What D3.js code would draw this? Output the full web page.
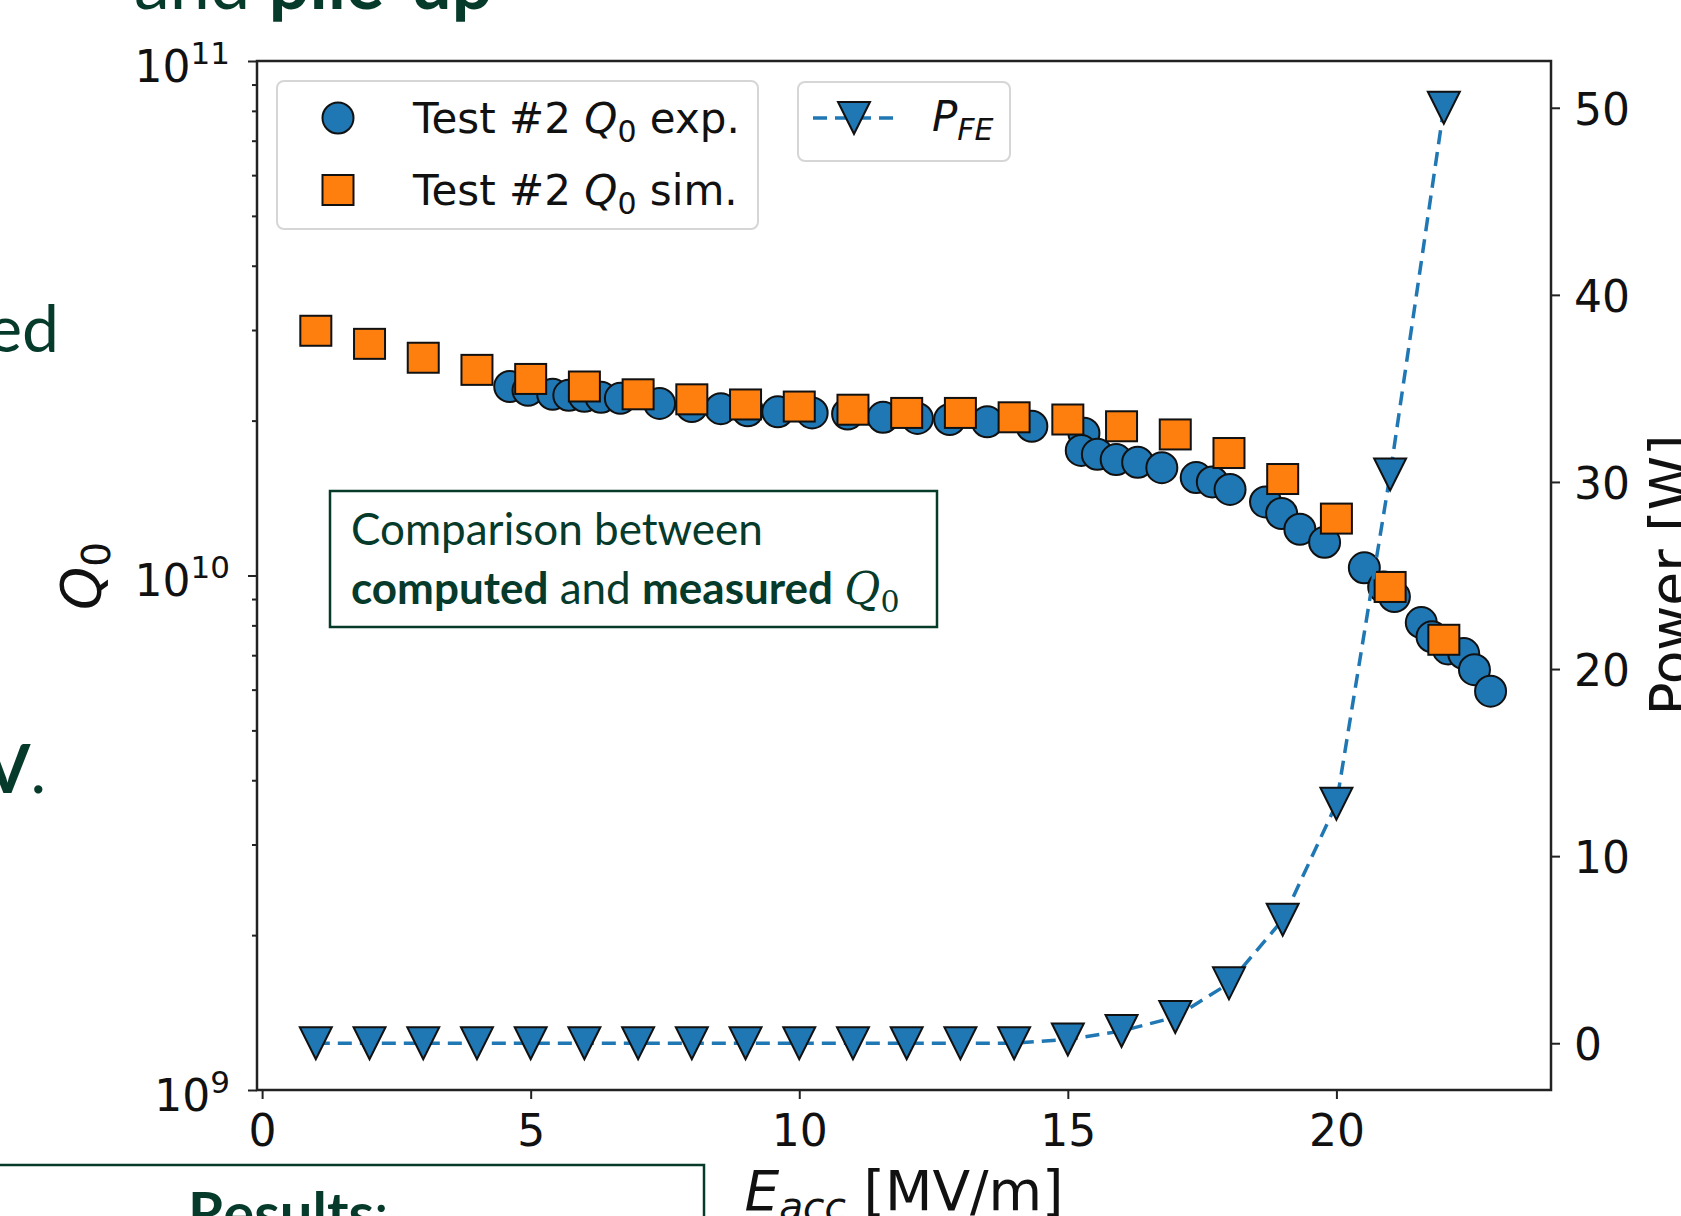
<!DOCTYPE html>
<html>
<head>
<meta charset="UTF-8">
<script src="https://d3js.org/d3.v7.min.js"></script>
<title>Q0 vs Eacc</title>
<style>
  body { margin: 0; background: #fff; overflow: hidden; }
  svg { display: block; }
  .mpl { font-family: "DejaVu Sans", sans-serif; fill: #111; }
  .slide { font-family: Lato, "Open Sans", sans-serif; fill: #063a2a; }
</style>
</head>
<body>
<div id="container"></div>
<script>
// Test #2 Q0 sim. (one point per MV/m)
var simE  = [1, 2, 3, 4, 5, 6, 7, 8, 9, 10, 11, 12, 13, 14, 15, 16, 17, 18, 19, 20, 21, 22];
var simQ0 = [2.99e10, 2.82e10, 2.65e10, 2.51e10, 2.41e10, 2.33e10, 2.25e10, 2.20e10, 2.15e10, 2.13e10, 2.10e10,
             2.07e10, 2.07e10, 2.03e10, 2.01e10, 1.95e10, 1.88e10, 1.73e10, 1.54e10, 1.29e10, 9.5e9, 7.5e9];

// Test #2 Q0 exp.
var expE  = [4.61, 4.95, 5.41, 5.71, 6.0, 6.31, 6.67, 7.4, 8.0, 8.54, 9.04, 9.6, 10.24, 10.9, 11.56, 12.2, 12.8,
             13.5, 14.33, 15.3, 15.25, 15.55, 15.9, 16.3, 16.75, 17.39, 17.69, 18.02, 18.68, 18.98, 19.32, 19.78,
             20.52, 20.88, 21.08, 21.58, 21.78, 22.08, 22.37, 22.57, 22.87];
var expQ0 = [2.33e10, 2.29e10, 2.25e10, 2.24e10, 2.23e10, 2.22e10, 2.21e10, 2.16e10, 2.13e10, 2.11e10, 2.09e10,
             2.08e10, 2.07e10, 2.06e10, 2.03e10, 2.02e10, 2.01e10, 1.99e10, 1.95e10, 1.89e10, 1.75e10, 1.72e10,
             1.68e10, 1.66e10, 1.62e10, 1.55e10, 1.52e10, 1.47e10, 1.39e10, 1.32e10, 1.23e10, 1.16e10, 1.035e10,
             9.5e9, 9.1e9, 8.1e9, 7.6e9, 7.2e9, 7.05e9, 6.56e9, 5.96e9];

// P_FE [W]
var pfeE = [1, 2, 3, 4, 5, 6, 7, 8, 9, 10, 11, 12, 13, 14, 15, 16, 17, 18, 19, 20, 21, 22];
var pfeP = [0, 0, 0, 0, 0, 0, 0, 0, 0, 0, 0, 0, 0, 0, 0.2, 0.65, 1.4, 3.2, 6.6, 12.8, 30.4, 50.0];

var eTicks = [0, 5, 10, 15, 20];
var q0Exps = [9, 10, 11];
var powerTicks = [0, 10, 20, 30, 40, 50];

var blue = "#1f77b4", orange = "#ff7f0e", green = "#063a2a", ink = "#111";

var W = 1681, H = 1216;
// plot box (note: "top" is taken by window.top)
var pL = 257, pR = 1551, pT = 61, pB = 1090;

var svg = d3.select("#container").append("svg").attr("width", W).attr("height", H);

var x  = d3.scaleLinear().domain([-0.095, 23.995]).range([pL, pR]);
var yQ = d3.scaleLog().domain([1e9, 1e11]).range([pB, pT]);
var yP = d3.scaleLinear().domain([-2.5, 52.5]).range([pB, pT]);

// text with italic / sub / sup pieces
function rich(g, parts) {
  var t = g.append("text");
  var shift = 0;
  parts.forEach(function(p) {
    var s = t.append("tspan").text(p.t);
    var want = p.sub || (p.sup ? -p.sup : 0);
    if (want - shift !== 0) s.attr("dy", want - shift);
    shift = want;
    if (p.i) s.attr("font-style", "italic");
    if (p.b) s.attr("font-weight", "bold");
    if (p.size) s.attr("font-size", p.size);
    if (p.family) s.attr("font-family", p.family);
  });
  return t;
}

function styleAxis(g) {
  g.select(".domain").remove();
  g.selectAll(".tick line").attr("stroke", "#222").attr("stroke-width", 2);
  g.selectAll(".tick text").attr("class", "mpl").attr("font-size", 44).attr("fill", ink);
}

// bottom axis
var gx = svg.append("g").attr("transform", "translate(0," + pB + ")")
  .call(d3.axisBottom(x).tickValues(eTicks).tickSize(9).tickPadding(16));
styleAxis(gx);

// left log axis, minor ticks
var minors = [];
[1e9, 1e10].forEach(function(b) { for (var k = 2; k < 10; k++) minors.push(k * b); });
var gyMinor = svg.append("g").attr("transform", "translate(" + pL + ",0)")
  .call(d3.axisLeft(yQ).tickValues(minors).tickSize(5).tickFormat(""));
styleAxis(gyMinor);

var gy = svg.append("g").attr("transform", "translate(" + pL + ",0)")
  .call(d3.axisLeft(yQ).tickValues(q0Exps.map(function(e) { return Math.pow(10, e); }))
    .tickSize(9).tickPadding(18).tickFormat(""));
styleAxis(gy);
gy.selectAll(".tick text").attr("dy", "0.46em").each(function(d) {
  var t = d3.select(this);
  t.append("tspan").text("10");
  t.append("tspan").attr("font-size", 31).attr("dy", -18).text(Math.round(Math.log10(d)));
});

// right axis
var gr = svg.append("g").attr("transform", "translate(" + pR + ",0)")
  .call(d3.axisRight(yP).tickValues(powerTicks).tickSize(9).tickPadding(14));
styleAxis(gr);
gr.selectAll(".tick text").attr("dy", "0.38em");

// frame
svg.append("rect").attr("x", pL).attr("y", pT)
  .attr("width", pR - pL).attr("height", pB - pT)
  .attr("fill", "none").attr("stroke", "#222").attr("stroke-width", 2.5);

// exp. circles
svg.append("g").selectAll("circle").data(expE).join("circle")
  .attr("cx", function(d) { return x(d); })
  .attr("cy", function(d, i) { return yQ(expQ0[i]); })
  .attr("r", 15.5).attr("fill", blue).attr("stroke", ink).attr("stroke-width", 2);

// sim. squares
svg.append("g").selectAll("rect").data(simE).join("rect")
  .attr("x", function(d) { return x(d) - 15.5; })
  .attr("y", function(d, i) { return yQ(simQ0[i]) - 15; })
  .attr("width", 31).attr("height", 30)
  .attr("fill", orange).attr("stroke", ink).attr("stroke-width", 2);

// P_FE on twin axis
var tri = function(cx, cy) {
  return "M" + (cx - 16) + "," + (cy - 16) + "L" + (cx + 16) + "," + (cy - 16) + "L" + cx + "," + (cy + 16) + "Z";
};
var line = d3.line().x(function(d) { return x(d); }).y(function(d, i) { return yP(pfeP[i]); });
svg.append("path").datum(pfeE).attr("d", line)
  .attr("fill", "none").attr("stroke", blue).attr("stroke-width", 3.5).attr("stroke-dasharray", "14,8");
svg.append("g").selectAll("path").data(pfeE).join("path")
  .attr("d", function(d, i) { return tri(x(d), yP(pfeP[i])); })
  .attr("fill", blue).attr("stroke", ink).attr("stroke-width", 2);

// legends
var lg1 = svg.append("g");
lg1.append("rect").attr("x", 277).attr("y", 81).attr("width", 481).attr("height", 148).attr("rx", 7)
  .attr("fill", "#fff").attr("stroke", "#d6d6d6").attr("stroke-width", 2);
lg1.append("circle").attr("cx", 338).attr("cy", 118).attr("r", 15.5)
  .attr("fill", blue).attr("stroke", ink).attr("stroke-width", 2);
lg1.append("rect").attr("x", 322.5).attr("y", 175).attr("width", 31).attr("height", 30)
  .attr("fill", orange).attr("stroke", ink).attr("stroke-width", 2);
rich(lg1, [{t: "Test #2 "}, {t: "Q", i: 1}, {t: "0", sub: 9, size: 30}, {t: " exp."}])
  .attr("class", "mpl").attr("font-size", 42).attr("x", 413).attr("y", 133);
rich(lg1, [{t: "Test #2 "}, {t: "Q", i: 1}, {t: "0", sub: 9, size: 30}, {t: " sim."}])
  .attr("class", "mpl").attr("font-size", 42).attr("x", 413).attr("y", 205);

var lg2 = svg.append("g");
lg2.append("rect").attr("x", 798).attr("y", 82).attr("width", 212).attr("height", 79).attr("rx", 7)
  .attr("fill", "#fff").attr("stroke", "#d6d6d6").attr("stroke-width", 2);
lg2.append("line").attr("x1", 813).attr("x2", 895).attr("y1", 118).attr("y2", 118)
  .attr("stroke", blue).attr("stroke-width", 3.5).attr("stroke-dasharray", "14,8");
lg2.append("path").attr("d", tri(854, 118)).attr("fill", blue).attr("stroke", ink).attr("stroke-width", 2);
rich(lg2, [{t: "P", i: 1}, {t: "FE", i: 1, sub: 9, size: 30}])
  .attr("class", "mpl").attr("font-size", 42).attr("x", 932).attr("y", 131);

// axis labels
rich(svg.append("g"), [{t: "E", i: 1}, {t: "acc", i: 1, sub: 10, size: 39}, {t: " [MV/m]"}])
  .attr("class", "mpl").attr("font-size", 55).attr("x", 904).attr("y", 1210).attr("text-anchor", "middle");
rich(svg.append("g").attr("transform", "translate(100,576) rotate(-90)"),
  [{t: "Q", i: 1}, {t: "0", sub: 10, size: 39}])
  .attr("class", "mpl").attr("font-size", 55).attr("text-anchor", "middle");
svg.append("g").attr("transform", "translate(1689,575) rotate(-90)")
  .append("text").attr("class", "mpl").attr("font-size", 55).attr("text-anchor", "middle").text("Power [W]");

// slide bits around the chart
rich(svg.append("g"), [{t: "and "}, {t: "pile-up", b: 1}])
  .attr("class", "slide").attr("font-size", 72).attr("x", 134).attr("y", 9);
svg.append("text").attr("class", "slide").attr("font-size", 66)
  .attr("x", 59).attr("y", 352).attr("text-anchor", "end").text("ed");
rich(svg.append("g"), [{t: "V", b: 1}, {t: "."}])
  .attr("class", "slide").attr("font-size", 66).attr("x", 46).attr("y", 793).attr("text-anchor", "end");

svg.append("rect").attr("x", -5).attr("y", 1165).attr("width", 709).attr("height", 120)
  .attr("fill", "#fff").attr("stroke", green).attr("stroke-width", 2.5);
rich(svg.append("g"), [{t: "Results", b: 1}, {t: ":"}])
  .attr("class", "slide").attr("font-size", 58).attr("x", 188).attr("y", 1234);

var note = svg.append("g");
note.append("rect").attr("x", 330).attr("y", 491).attr("width", 607).attr("height", 136)
  .attr("fill", "#fff").attr("stroke", green).attr("stroke-width", 2.5);
note.append("text").attr("class", "slide").attr("font-size", 44).attr("x", 351).attr("y", 545)
  .text("Comparison between");
rich(note, [{t: "computed", b: 1}, {t: " and "}, {t: "measured", b: 1}, {t: " "},
            {t: "Q", i: 1, family: "'DejaVu Serif', serif"},
            {t: "0", sub: 8, size: 30, family: "'DejaVu Serif', serif"}])
  .attr("class", "slide").attr("font-size", 44).attr("x", 351).attr("y", 604);
</script>
</body>
</html>
